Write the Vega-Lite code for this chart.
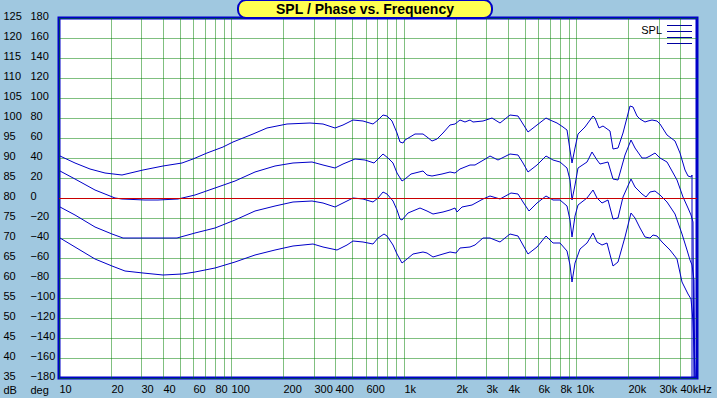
{
"$schema": "https://vega.github.io/schema/vega-lite/v6.json",
"width": 638, "height": 360,
"autosize": {"type": "none"},
"padding": {"left": 59, "top": 18, "right": 20, "bottom": 20},
"background": "#A0C8E0",
"config": {
  "view": {"stroke": "#0000C8", "strokeWidth": 3, "fill": "#FFFFFF"},
  "font": "Liberation Sans",
  "axis": {"labelFont": "Liberation Sans", "labelFontSize": 11, "labelColor": "#000000", "domain": false, "ticks": false, "tickSize": 0, "gridColor": "#008000", "gridDash": [1, 1], "gridOpacity": 1, "gridWidth": 1, "labelOverlap": false, "labelFlush": false, "titleFont": "Liberation Sans", "titleFontSize": 11, "titleFontWeight": "normal", "titleColor": "#000000"}
},
"layer": [
  {
    "data": {"values": [
{"s":1,"f":10.13,"db":90.4},{"s":1,"f":12.38,"db":88.8},{"s":1,"f":15.13,"db":87.3},{"s":1,"f":18.48,"db":86.2},{"s":1,"f":23.09,"db":85.8},{"s":1,"f":30.81,"db":86.9},{"s":1,"f":40.24,"db":87.9},{"s":1,"f":51.43,"db":88.7},{"s":1,"f":60.05,"db":89.7},{"s":1,"f":71.81,"db":91.2},{"s":1,"f":89.64,"db":92.7},{"s":1,"f":102.4,"db":93.9},{"s":1,"f":133.8,"db":96.1},{"s":1,"f":160.0,"db":97.5},{"s":1,"f":208.9,"db":98.4},{"s":1,"f":285.2,"db":98.8},{"s":1,"f":340.5,"db":98.4},{"s":1,"f":398.1,"db":97.4},{"s":1,"f":444.8,"db":98.2},{"s":1,"f":508.2,"db":99.5},{"s":1,"f":580.8,"db":99.3},{"s":1,"f":663.7,"db":98.6},{"s":1,"f":709.6,"db":99.6},{"s":1,"f":758.6,"db":100.7},{"s":1,"f":800.3,"db":100.4},{"s":1,"f":848.6,"db":99.2},{"s":1,"f":907.3,"db":96.3},{"s":1,"f":948.1,"db":94.0},{"s":1,"f":982.9,"db":93.8},{"s":1,"f":1013,"db":94.6},{"s":1,"f":1083,"db":95.2},{"s":1,"f":1158,"db":96.0},{"s":1,"f":1294,"db":96.0},{"s":1,"f":1354,"db":95.2},{"s":1,"f":1447,"db":94.3},{"s":1,"f":1547,"db":94.7},{"s":1,"f":1690,"db":96.3},{"s":1,"f":1848,"db":98.2},{"s":1,"f":1976,"db":98.6},{"s":1,"f":2111,"db":99.5},{"s":1,"f":2257,"db":99.0},{"s":1,"f":2413,"db":99.4},{"s":1,"f":2522,"db":98.9},{"s":1,"f":2882,"db":99.2},{"s":1,"f":3224,"db":99.9},{"s":1,"f":3602,"db":98.8},{"s":1,"f":4117,"db":100.7},{"s":1,"f":4598,"db":100.4},{"s":1,"f":4916,"db":98.6},{"s":1,"f":5255,"db":96.5},{"s":1,"f":5880,"db":98.2},{"s":1,"f":6657,"db":100.0},{"s":1,"f":7022,"db":99.6},{"s":1,"f":7678,"db":98.7},{"s":1,"f":8384,"db":97.7},{"s":1,"f":8774,"db":97.0},{"s":1,"f":9170,"db":92.1},{"s":1,"f":9456,"db":88.8},{"s":1,"f":9802,"db":92.6},{"s":1,"f":10243,"db":96.1},{"s":1,"f":11200,"db":97.7},{"s":1,"f":12420,"db":100.6},{"s":1,"f":12800,"db":100.0},{"s":1,"f":13560,"db":97.5},{"s":1,"f":14305,"db":97.9},{"s":1,"f":15640,"db":96.7},{"s":1,"f":16210,"db":92.3},{"s":1,"f":17470,"db":92.5},{"s":1,"f":18680,"db":96.3},{"s":1,"f":20420,"db":103.1},{"s":1,"f":21340,"db":102.8},{"s":1,"f":22340,"db":100.4},{"s":1,"f":23340,"db":99.8},{"s":1,"f":24960,"db":98.9},{"s":1,"f":26080,"db":99.2},{"s":1,"f":27510,"db":99.6},{"s":1,"f":29170,"db":99.2},{"s":1,"f":30490,"db":98.4},{"s":1,"f":33340,"db":95.8},{"s":1,"f":37240,"db":94.2},{"s":1,"f":39810,"db":91.2},{"s":1,"f":42560,"db":87.0},{"s":1,"f":44470,"db":85.5},{"s":1,"f":46100,"db":85.3},{"s":1,"f":46530,"db":85.8},{"s":1,"f":46900,"db":30},
{"s":2,"f":10.13,"db":86.8},{"s":2,"f":12.38,"db":84.8},{"s":2,"f":16.17,"db":82.0},{"s":2,"f":18.48,"db":80.9},{"s":2,"f":21.11,"db":79.9},{"s":2,"f":23.09,"db":79.7},{"s":2,"f":31.52,"db":79.5},{"s":2,"f":37.64,"db":79.4},{"s":2,"f":49.15,"db":79.75},{"s":2,"f":61.43,"db":80.8},{"s":2,"f":80.24,"db":82.4},{"s":2,"f":104.8,"db":84.3},{"s":2,"f":136.9,"db":86.4},{"s":2,"f":178.8,"db":87.9},{"s":2,"f":228.2,"db":88.7},{"s":2,"f":291.7,"db":88.9},{"s":2,"f":340.5,"db":88.3},{"s":2,"f":398.1,"db":87.5},{"s":2,"f":444.8,"db":88.5},{"s":2,"f":519.9,"db":89.7},{"s":2,"f":594.1,"db":89.4},{"s":2,"f":670.0,"db":88.7},{"s":2,"f":758.6,"db":91.0},{"s":2,"f":811.0,"db":90.1},{"s":2,"f":867.0,"db":88.8},{"s":2,"f":907.3,"db":86.2},{"s":2,"f":969.8,"db":84.15},{"s":2,"f":1013,"db":84.8},{"s":2,"f":1098,"db":86.0},{"s":2,"f":1294,"db":86.8},{"s":2,"f":1354,"db":85.8},{"s":2,"f":1447,"db":85.5},{"s":2,"f":1654,"db":85.9},{"s":2,"f":1848,"db":86.6},{"s":2,"f":1976,"db":86.3},{"s":2,"f":2111,"db":87.3},{"s":2,"f":2413,"db":88.3},{"s":2,"f":2580,"db":88.3},{"s":2,"f":3016,"db":90.0},{"s":2,"f":3152,"db":90.4},{"s":2,"f":3521,"db":89.6},{"s":2,"f":4117,"db":91.1},{"s":2,"f":4598,"db":90.8},{"s":2,"f":4916,"db":88.7},{"s":2,"f":5255,"db":86.4},{"s":2,"f":5880,"db":88.3},{"s":2,"f":6657,"db":90.4},{"s":2,"f":7338,"db":89.4},{"s":2,"f":8024,"db":89.1},{"s":2,"f":8774,"db":87.5},{"s":2,"f":9170,"db":84.5},{"s":2,"f":9456,"db":79.5},{"s":2,"f":9802,"db":83.3},{"s":2,"f":10243,"db":87.5},{"s":2,"f":11460,"db":89.05},{"s":2,"f":12250,"db":91.6},{"s":2,"f":13095,"db":89.6},{"s":2,"f":13685,"db":88.55},{"s":2,"f":15290,"db":89.1},{"s":2,"f":16210,"db":84.7},{"s":2,"f":17470,"db":84.5},{"s":2,"f":19110,"db":90.8},{"s":2,"f":20620,"db":94.4},{"s":2,"f":21830,"db":92.5},{"s":2,"f":23880,"db":90.0},{"s":2,"f":25290,"db":90.0},{"s":2,"f":26680,"db":90.6},{"s":2,"f":28520,"db":91.2},{"s":2,"f":30490,"db":90.0},{"s":2,"f":33340,"db":89.1},{"s":2,"f":38090,"db":84.5},{"s":2,"f":41610,"db":80.25},{"s":2,"f":44470,"db":77.5},{"s":2,"f":46100,"db":75.7},{"s":2,"f":47340,"db":74.0},{"s":2,"f":47860,"db":30},
{"s":3,"f":10.13,"db":77.7},{"s":3,"f":12.38,"db":75.7},{"s":3,"f":16.17,"db":72.8},{"s":3,"f":20.21,"db":70.95},{"s":3,"f":23.59,"db":70.1},{"s":3,"f":32.24,"db":70.05},{"s":3,"f":38.5,"db":70.0},{"s":3,"f":48.11,"db":70.1},{"s":3,"f":61.43,"db":71.3},{"s":3,"f":80.24,"db":72.6},{"s":3,"f":104.8,"db":74.5},{"s":3,"f":136.9,"db":76.7},{"s":3,"f":178.8,"db":78.0},{"s":3,"f":228.2,"db":79.1},{"s":3,"f":291.7,"db":79.25},{"s":3,"f":340.5,"db":78.7},{"s":3,"f":398.1,"db":77.7},{"s":3,"f":465.4,"db":79.25},{"s":3,"f":508.2,"db":79.9},{"s":3,"f":580.8,"db":79.75},{"s":3,"f":663.7,"db":78.9},{"s":3,"f":709.6,"db":79.9},{"s":3,"f":758.6,"db":81.4},{"s":3,"f":800.3,"db":81.1},{"s":3,"f":867.0,"db":79.25},{"s":3,"f":907.3,"db":77.0},{"s":3,"f":948.1,"db":74.65},{"s":3,"f":969.8,"db":74.5},{"s":3,"f":1059,"db":76.2},{"s":3,"f":1238,"db":77.4},{"s":3,"f":1354,"db":76.7},{"s":3,"f":1479,"db":76.0},{"s":3,"f":1690,"db":76.5},{"s":3,"f":1848,"db":77.0},{"s":3,"f":1976,"db":77.4},{"s":3,"f":2021,"db":76.4},{"s":3,"f":2160,"db":77.7},{"s":3,"f":2469,"db":78.2},{"s":3,"f":2882,"db":79.75},{"s":3,"f":3152,"db":80.6},{"s":3,"f":3602,"db":79.7},{"s":3,"f":4173,"db":81.3},{"s":3,"f":4598,"db":81.0},{"s":3,"f":4916,"db":79.1},{"s":3,"f":5303,"db":76.7},{"s":3,"f":5880,"db":78.7},{"s":3,"f":6657,"db":80.6},{"s":3,"f":7338,"db":79.5},{"s":3,"f":8024,"db":79.4},{"s":3,"f":8774,"db":78.0},{"s":3,"f":9170,"db":74.5},{"s":3,"f":9381,"db":70.2},{"s":3,"f":9802,"db":75.5},{"s":3,"f":10243,"db":78.2},{"s":3,"f":11460,"db":79.9},{"s":3,"f":12420,"db":82.1},{"s":3,"f":13095,"db":79.9},{"s":3,"f":14000,"db":78.7},{"s":3,"f":15290,"db":79.5},{"s":3,"f":16210,"db":74.65},{"s":3,"f":17470,"db":74.9},{"s":3,"f":18680,"db":80.3},{"s":3,"f":20620,"db":84.7},{"s":3,"f":21830,"db":82.8},{"s":3,"f":23880,"db":81.0},{"s":3,"f":25290,"db":80.3},{"s":3,"f":26680,"db":81.6},{"s":3,"f":28520,"db":81.8},{"s":3,"f":30490,"db":80.8},{"s":3,"f":33340,"db":79.1},{"s":3,"f":37240,"db":76.0},{"s":3,"f":40730,"db":70.95},{"s":3,"f":43530,"db":66.9},{"s":3,"f":45490,"db":64.4},{"s":3,"f":46720,"db":63.2},{"s":3,"f":47980,"db":59.4},{"s":3,"f":48510,"db":30},
{"s":4,"f":10.13,"db":69.95},{"s":4,"f":12.38,"db":67.8},{"s":4,"f":16.17,"db":64.85},{"s":4,"f":20.21,"db":62.9},{"s":4,"f":24.13,"db":61.7},{"s":4,"f":30.81,"db":61.2},{"s":4,"f":40.24,"db":60.8},{"s":4,"f":51.43,"db":60.9},{"s":4,"f":61.43,"db":61.5},{"s":4,"f":80.24,"db":62.5},{"s":4,"f":104.8,"db":64.0},{"s":4,"f":136.9,"db":65.7},{"s":4,"f":178.8,"db":67.1},{"s":4,"f":228.2,"db":68.1},{"s":4,"f":298.0,"db":68.4},{"s":4,"f":340.5,"db":67.8},{"s":4,"f":407.3,"db":66.9},{"s":4,"f":465.4,"db":68.2},{"s":4,"f":508.2,"db":69.3},{"s":4,"f":580.8,"db":69.0},{"s":4,"f":663.7,"db":68.4},{"s":4,"f":709.6,"db":69.9},{"s":4,"f":765.9,"db":70.9},{"s":4,"f":800.3,"db":70.45},{"s":4,"f":867.0,"db":68.2},{"s":4,"f":907.3,"db":65.9},{"s":4,"f":969.8,"db":63.7},{"s":4,"f":1037,"db":64.85},{"s":4,"f":1128,"db":65.9},{"s":4,"f":1294,"db":66.6},{"s":4,"f":1354,"db":66.3},{"s":4,"f":1473,"db":65.3},{"s":4,"f":1690,"db":66.1},{"s":4,"f":1848,"db":66.6},{"s":4,"f":2001,"db":66.3},{"s":4,"f":2111,"db":67.4},{"s":4,"f":2413,"db":67.8},{"s":4,"f":2580,"db":68.2},{"s":4,"f":2882,"db":70.1},{"s":4,"f":3152,"db":69.9},{"s":4,"f":3602,"db":69.0},{"s":4,"f":4117,"db":70.9},{"s":4,"f":4598,"db":70.6},{"s":4,"f":4916,"db":68.2},{"s":4,"f":5220,"db":66.1},{"s":4,"f":5880,"db":67.8},{"s":4,"f":6683,"db":70.45},{"s":4,"f":7338,"db":68.8},{"s":4,"f":8024,"db":68.8},{"s":4,"f":8774,"db":66.8},{"s":4,"f":9231,"db":63.2},{"s":4,"f":9456,"db":59.1},{"s":4,"f":9802,"db":63.7},{"s":4,"f":10478,"db":67.2},{"s":4,"f":11460,"db":68.7},{"s":4,"f":12420,"db":71.3},{"s":4,"f":13095,"db":69.0},{"s":4,"f":14000,"db":68.2},{"s":4,"f":14965,"db":68.8},{"s":4,"f":16210,"db":62.9},{"s":4,"f":17470,"db":64.0},{"s":4,"f":19110,"db":70.3},{"s":4,"f":20620,"db":76.3},{"s":4,"f":21830,"db":74.9},{"s":4,"f":23340,"db":72.4},{"s":4,"f":24960,"db":70.3},{"s":4,"f":26680,"db":69.9},{"s":4,"f":27880,"db":70.7},{"s":4,"f":29410,"db":70.45},{"s":4,"f":31180,"db":69.0},{"s":4,"f":34830,"db":66.9},{"s":4,"f":38090,"db":64.8},{"s":4,"f":40730,"db":59.1},{"s":4,"f":44470,"db":55.9},{"s":4,"f":46100,"db":54.8},{"s":4,"f":47340,"db":49.3},{"s":4,"f":49160,"db":30}
    ]},
    "mark": {"type": "line", "color": "#0000C8", "strokeWidth": 1, "clip": true},
    "encoding": {
      "x": {"field": "f", "type": "quantitative",
        "scale": {"type": "log", "domain": [10, 50000], "nice": false, "round": true},
        "axis": {"orient": "bottom", "values": [10,20,30,40,50,60,70,80,90,100,200,300,400,500,600,700,800,900,1000,2000,3000,4000,5000,6000,7000,8000,9000,10000,20000,30000,40000],
          "grid": true, "labelAlign": "left", "labelBaseline": "middle", "labelPadding": 11, "title": null,
          "labelExpr": "indexof([10,20,30,40,60,80,100,200,300,400,600,1000,2000,3000,4000,6000,8000,10000,20000,30000], datum.value) >= 0 ? (datum.value >= 1000 ? format(datum.value/1000, 'd') + 'k' : format(datum.value, 'd')) : (datum.value == 40000 ? '40kHz' : '')"}},
      "y": {"field": "db", "type": "quantitative",
        "scale": {"domain": [35, 125], "nice": false, "zero": false, "round": true},
        "axis": {"orient": "left", "values": [35,40,45,50,55,60,65,70,75,80,85,90,95,100,105,110,115,120,125],
          "grid": true, "labelAlign": "left", "labelBaseline": "middle", "labelPadding": 56, "labelOffset": -2,
          "title": "dB", "titleAngle": 0, "titleAlign": "left", "titleBaseline": "middle", "titleX": -56, "titleY": 372}},
      "detail": {"field": "s", "type": "nominal"}
    }
  },
  {
    "data": {"values": [{}]},
    "mark": {"type": "rule", "color": "#C80000", "strokeWidth": 1, "yOffset": 0.5},
    "encoding": {
      "y": {"datum": 80, "type": "quantitative",
        "scale": {"domain": [35, 125], "nice": false, "zero": false, "round": true},
        "axis": {"orient": "left", "values": [35,40,45,50,55,60,65,70,75,80,85,90,95,100,105,110,115,120,125],
          "grid": false, "labelAlign": "left", "labelBaseline": "middle", "labelPadding": 29, "labelOffset": -2,
          "labelExpr": "format((datum.value - 80) * 4, 'd')",
          "title": "deg", "titleAngle": 0, "titleAlign": "left", "titleBaseline": "middle", "titleX": -29, "titleY": 372}}
    }
  },
  {
    "data": {"values": [{}]},
    "mark": {"type": "rect", "fill": "#FFFF50", "stroke": "#0000C8", "strokeWidth": 2, "cornerRadius": 8},
    "encoding": {
      "x": {"datum": 109.1, "type": "quantitative", "scale": {"type": "log", "domain": [10, 50000], "nice": false, "round": true}, "axis": null},
      "x2": {"datum": 3237},
      "y": {"datum": 129.4, "type": "quantitative", "scale": {"domain": [35, 125], "nice": false, "zero": false, "round": true}, "axis": null},
      "y2": {"datum": 125.1}
    }
  },
  {
    "data": {"values": [{}]},
    "mark": {"type": "text", "text": "SPL / Phase vs. Frequency", "font": "Liberation Sans", "fontSize": 14, "fontWeight": "bold", "color": "#000000", "align": "center", "baseline": "middle"},
    "encoding": {
      "x": {"datum": 598.2, "type": "quantitative", "scale": {"type": "log", "domain": [10, 50000], "nice": false, "round": true}, "axis": null},
      "y": {"datum": 127.0, "type": "quantitative", "scale": {"domain": [35, 125], "nice": false, "zero": false, "round": true}, "axis": null}
    }
  },
  {
    "data": {"values": [{}]},
    "mark": {"type": "text", "text": "SPL", "font": "Liberation Sans", "fontSize": 11, "color": "#000000", "align": "right", "baseline": "middle"},
    "encoding": {
      "x": {"datum": 31300, "type": "quantitative", "scale": {"type": "log", "domain": [10, 50000], "nice": false, "round": true}, "axis": null},
      "y": {"datum": 121.75, "type": "quantitative", "scale": {"domain": [35, 125], "nice": false, "zero": false, "round": true}, "axis": null}
    }
  },
  {
    "data": {"values": [{}]},
    "mark": {"type": "rule", "color": "#0000A0", "strokeWidth": 1, "yOffset": 0.5},
    "encoding": {
      "x": {"datum": 33470, "type": "quantitative", "scale": {"type": "log", "domain": [10, 50000], "nice": false, "round": true}, "axis": null},
      "x2": {"datum": 46720},
      "y": {"datum": 123.25, "type": "quantitative", "scale": {"domain": [35, 125], "nice": false, "zero": false, "round": true}, "axis": null}
    }
  },
  {
    "data": {"values": [{}]},
    "mark": {"type": "rule", "color": "#0000A0", "strokeWidth": 1, "yOffset": 0.5},
    "encoding": {
      "x": {"datum": 33470, "type": "quantitative", "scale": {"type": "log", "domain": [10, 50000], "nice": false, "round": true}, "axis": null},
      "x2": {"datum": 46720},
      "y": {"datum": 121.75, "type": "quantitative", "scale": {"domain": [35, 125], "nice": false, "zero": false, "round": true}, "axis": null}
    }
  },
  {
    "data": {"values": [{}]},
    "mark": {"type": "rule", "color": "#0000A0", "strokeWidth": 1, "yOffset": 0.5},
    "encoding": {
      "x": {"datum": 33470, "type": "quantitative", "scale": {"type": "log", "domain": [10, 50000], "nice": false, "round": true}, "axis": null},
      "x2": {"datum": 46720},
      "y": {"datum": 120.25, "type": "quantitative", "scale": {"domain": [35, 125], "nice": false, "zero": false, "round": true}, "axis": null}
    }
  },
  {
    "data": {"values": [{}]},
    "mark": {"type": "rule", "color": "#0000A0", "strokeWidth": 1, "yOffset": 0.5},
    "encoding": {
      "x": {"datum": 33470, "type": "quantitative", "scale": {"type": "log", "domain": [10, 50000], "nice": false, "round": true}, "axis": null},
      "x2": {"datum": 46720},
      "y": {"datum": 118.75, "type": "quantitative", "scale": {"domain": [35, 125], "nice": false, "zero": false, "round": true}, "axis": null}
    }
  }
],
"resolve": {"axis": {"x": "independent", "y": "independent"}}
}
